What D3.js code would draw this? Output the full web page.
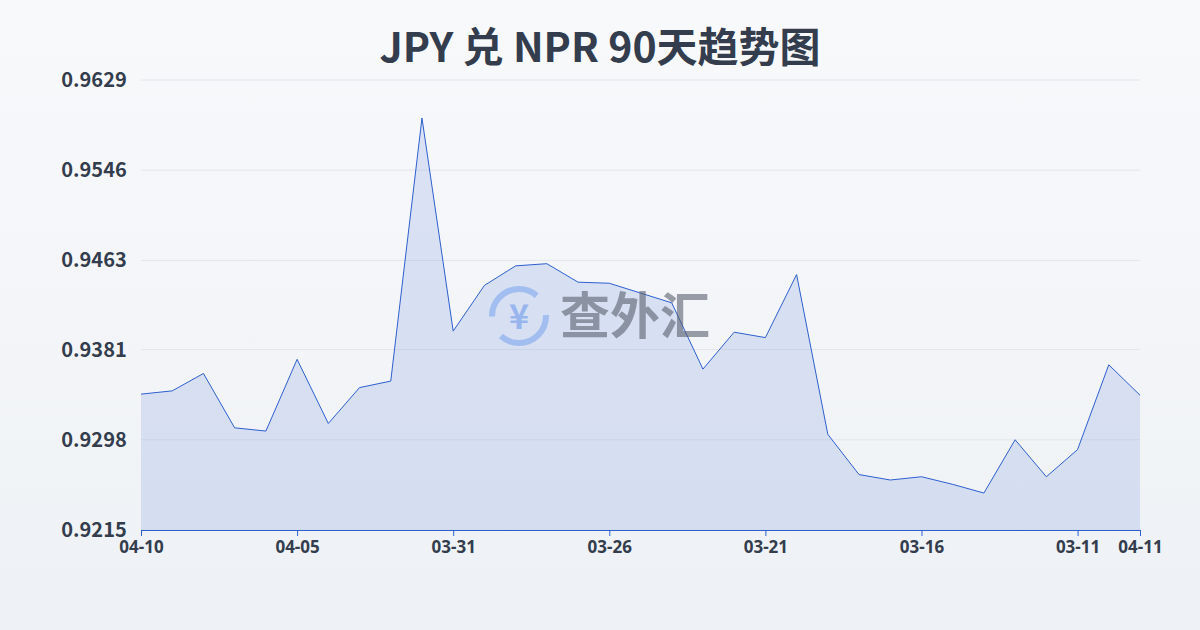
<!DOCTYPE html>
<html>
<head>
<meta charset="utf-8">
<script src="https://d3js.org/d3.v7.min.js"></script>
<style>
body { margin:0; }
svg { font-family: "Noto Sans CJK SC", "Noto Sans", sans-serif; }
</style>
</head>
<body>
<svg id="chart" width="1200" height="630"></svg>
<script>
var dates = ["04-10","04-09","04-08","04-07","04-06","04-05","04-04","04-03","04-02","04-01",
  "03-31","03-30","03-29","03-28","03-27","03-26","03-25","03-24","03-23","03-22",
  "03-21","03-20","03-19","03-18","03-17","03-16","03-15","03-14","03-13","03-12",
  "03-11","03-10","04-11"];
var rates = [0.9340,0.9343,0.9359,0.9309,0.9306,0.9372,0.9313,0.9346,0.9352,0.9594,
  0.9398,0.9440,0.9458,0.9460,0.9443,0.9442,0.9433,0.9424,0.9363,0.9397,
  0.9392,0.9450,0.9303,0.9266,0.9261,0.9264,0.9257,0.9249,0.9298,0.9264,
  0.9289,0.9367,0.9339];
var yTicks = [0.9215,0.9298,0.9381,0.9463,0.9546,0.9629];
var xLabelIdx = [0,5,10,15,20,25,30,32];

var svg = d3.select("#chart");
var defs = svg.append("defs");
var bg = defs.append("linearGradient").attr("id","bg").attr("x1",0).attr("y1",0).attr("x2",0).attr("y2",1);
bg.append("stop").attr("offset","0%").attr("stop-color","#f8f9fb");
bg.append("stop").attr("offset","100%").attr("stop-color","#eef1f5");
svg.append("rect").attr("width",1200).attr("height",630).attr("fill","url(#bg)");

var x = d3.scaleLinear().domain([0, dates.length-1]).range([141,1140]);
var y = d3.scaleLinear().domain([0.9215,0.9629]).range([530,80]);

svg.append("text").attr("x",600).attr("y",62).attr("text-anchor","middle")
  .attr("font-size",41).attr("font-weight","bold").attr("fill","#333d4d")
  .text("JPY 兑 NPR 90天趋势图");

svg.selectAll(".grid").data(yTicks).enter().append("line")
  .attr("x1",141).attr("x2",1140).attr("y1",d=>y(d)).attr("y2",d=>y(d))
  .attr("stroke","#e2e5ea").attr("stroke-width",1);

svg.selectAll(".yl").data(yTicks).enter().append("text")
  .attr("x",94).attr("y",d=>y(d)+7).attr("text-anchor","middle")
  .attr("font-size",20).attr("font-weight","bold").attr("fill","#333d4d")
  .text(d=>d.toFixed(4));

var area = d3.area().x((d,i)=>x(i)).y0(y(0.9215)).y1(d=>y(d));
svg.append("path").datum(rates).attr("d",area).attr("fill","rgba(120,150,225,0.22)");
var line = d3.line().x((d,i)=>x(i)).y(d=>y(d));
svg.append("path").datum(rates).attr("d",line).attr("fill","none")
  .attr("stroke","#2d5fcf").attr("stroke-width",1);

// watermark
var wm = svg.append("g").attr("opacity",0.6);
wm.append("circle").attr("cx",519).attr("cy",316).attr("r",27).attr("fill","none")
  .attr("stroke","#7fa6ee").attr("stroke-width",6).attr("stroke-dasharray","62 22");
wm.append("text").attr("x",519).attr("y",329).attr("text-anchor","middle")
  .attr("font-size",34).attr("font-weight","bold").attr("fill","#6f9bea").text("¥");
wm.append("text").attr("x",560).attr("y",334).attr("font-size",50).attr("font-weight","bold")
  .attr("fill","#5a6170").text("查外汇");

var xAxis = d3.axisBottom(x).tickValues(xLabelIdx).tickFormat(i=>dates[i]).tickSize(6).tickSizeOuter(0);
var ax = svg.append("g").attr("transform","translate(0,530)").call(xAxis);
ax.select(".domain").attr("stroke","#2d5fcf");
ax.selectAll(".tick line").attr("stroke","#2d5fcf");
ax.selectAll(".tick text").attr("font-size",17).attr("font-weight","bold")
  .attr("fill","#333d4d").attr("font-family","Noto Sans, sans-serif").attr("dy","0.85em");
</script>
</body>
</html>
